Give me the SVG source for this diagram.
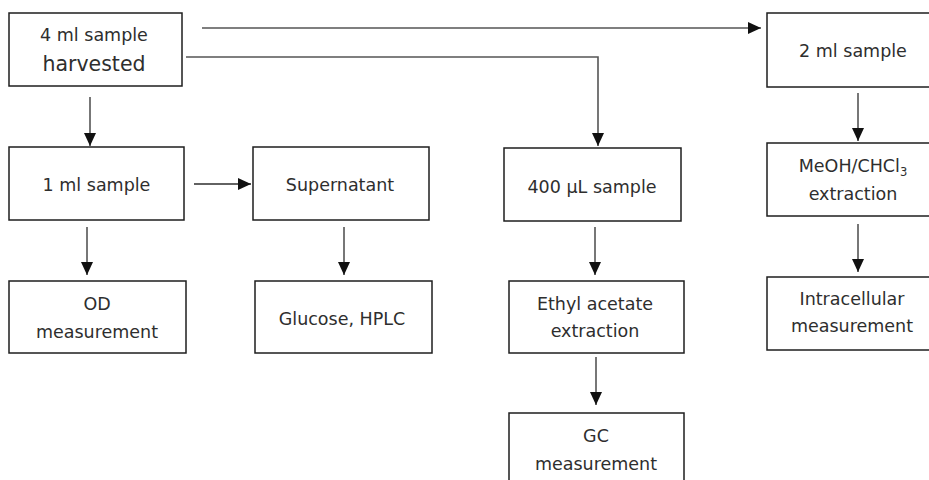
<svg xmlns="http://www.w3.org/2000/svg" width="929" height="480" viewBox="0 0 929 480">
  <style>
    .box { fill: #ffffff; stroke: #1e1e1e; stroke-width: 1.5; }
    .lbl { font-family: "DejaVu Sans", Verdana, sans-serif; font-size: 17.5px; fill: #2e2e2e; text-anchor: middle; }
    .big { font-size: 20.5px; }
    .edge { fill: none; stroke: #2e2e2e; stroke-width: 1.3; }
    .feed { fill: none; stroke: #555555; stroke-width: 1.6; }
  </style>
  <defs>
    <marker id="arrow" markerUnits="userSpaceOnUse" markerWidth="13" markerHeight="12" refX="13" refY="6" orient="auto">
      <path d="M0,0 L13,6 L0,12 Z" fill="#111111"/>
    </marker>
  </defs>
  <rect width="929" height="480" fill="#ffffff"/>

  <g id="connectors">
    <path class="feed" d="M202,28 H761" marker-end="url(#arrow)"/>
    <path class="feed" d="M186,57 H598 V146" marker-end="url(#arrow)"/>
    <path class="edge" d="M90,97 V146" marker-end="url(#arrow)"/>
    <path class="edge" d="M194,184 H251" marker-end="url(#arrow)"/>
    <path class="edge" d="M87,227 V275" marker-end="url(#arrow)"/>
    <path class="edge" d="M344,227 V275" marker-end="url(#arrow)"/>
    <path class="edge" d="M595,227 V275" marker-end="url(#arrow)"/>
    <path class="edge" d="M596,357 V405" marker-end="url(#arrow)"/>
    <path class="edge" d="M858,93 V141" marker-end="url(#arrow)"/>
    <path class="edge" d="M858,224 V272" marker-end="url(#arrow)"/>
  </g>

  <g id="harvested">
    <rect class="box" x="9" y="13" width="173" height="73"/>
    <text class="lbl" x="94" y="41">4 ml sample</text>
    <text class="lbl big" x="94" y="71">harvested</text>
  </g>

  <g id="sample-1ml">
    <rect class="box" x="9" y="147" width="175" height="73"/>
    <text class="lbl" x="96.5" y="191">1 ml sample</text>
  </g>

  <g id="supernatant">
    <rect class="box" x="253" y="147" width="176" height="73"/>
    <text class="lbl" x="340" y="191">Supernatant</text>
  </g>

  <g id="sample-400ul">
    <rect class="box" x="504" y="148" width="177" height="73"/>
    <text class="lbl" x="592" y="193">400 µL sample</text>
  </g>

  <g id="sample-2ml">
    <rect class="box" x="767" y="13" width="172" height="74"/>
    <text class="lbl" x="853" y="57">2 ml sample</text>
  </g>

  <g id="meoh-extraction">
    <rect class="box" x="767" y="143" width="172" height="73"/>
    <text class="lbl" x="853" y="172">MeOH/CHCl<tspan font-size="11.5" dy="4">3</tspan></text>
    <text class="lbl" x="853" y="200">extraction</text>
  </g>

  <g id="od-measurement">
    <rect class="box" x="9" y="281" width="177" height="72"/>
    <text class="lbl" x="97" y="310">OD</text>
    <text class="lbl" x="97" y="338">measurement</text>
  </g>

  <g id="glucose-hplc">
    <rect class="box" x="255" y="281" width="177" height="72"/>
    <text class="lbl" x="342" y="325">Glucose, HPLC</text>
  </g>

  <g id="ethyl-acetate-extraction">
    <rect class="box" x="509" y="281" width="175" height="72"/>
    <text class="lbl" x="595" y="310">Ethyl acetate</text>
    <text class="lbl" x="595" y="337">extraction</text>
  </g>

  <g id="gc-measurement">
    <rect class="box" x="509" y="413" width="175" height="80"/>
    <text class="lbl" x="596" y="442">GC</text>
    <text class="lbl" x="596" y="470">measurement</text>
  </g>

  <g id="intracellular-measurement">
    <rect class="box" x="767" y="277" width="172" height="73"/>
    <text class="lbl" x="852" y="305">Intracellular</text>
    <text class="lbl" x="852" y="332">measurement</text>
  </g>
</svg>
